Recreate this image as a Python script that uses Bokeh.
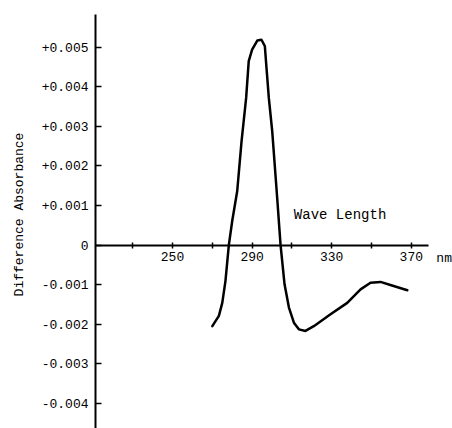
import math
from bokeh.plotting import figure
from bokeh.models import Range1d, FixedTicker, CustomJSTickFormatter, Label, LinearAxis
from bokeh.embed import file_html
from bokeh.resources import INLINE

# Data (wavelength in nm, difference absorbance)
wavelength = [270.0, 273.3, 275.0, 276.6, 278.3, 280.0, 282.5, 284.7, 287.0, 288.3,
              290.0, 292.6, 294.7, 296.4, 297.1, 298.4, 300.1, 302.6, 304.3, 306.3,
              308.5, 311.0, 313.5, 316.8, 321.0, 329.4, 337.8, 344.5, 349.5, 354.5,
              359.5, 368.0]
absorbance = [-0.00205, -0.00179, -0.00146, -0.00091, 0.0, 0.00061, 0.00136, 0.00263,
              0.00372, 0.00465, 0.00494, 0.00517, 0.00519, 0.00503, 0.00456, 0.00372,
              0.00288, 0.00119, 0.0, -0.00099, -0.00158, -0.00196, -0.00213, -0.00217,
              -0.00205, -0.00175, -0.00146, -0.00112, -0.00095, -0.00093, -0.00101,
              -0.00114]

x_ticks = [230, 250, 270, 290, 310, 330, 350, 370]
x_hidden = [230, 270, 310, 350]
y_ticks = [-0.004, -0.003, -0.002, -0.001, 0.0, 0.001, 0.002, 0.003, 0.004, 0.005]

FONT = "Liberation Mono"

W, H = 452, 428
LEFT = 95
px_per_nm = 1.99
px_per_unit = 39560.0
x0 = 211.3
x1 = x0 + (W - LEFT) / px_per_nm
zero_px = 244.6  # zero line from top of frame
y1 = zero_px / px_per_unit
y0 = -(H - zero_px) / px_per_unit

p = figure(width=W, height=H, output_backend="svg", toolbar_location=None,
           x_range=Range1d(x0, x1), y_range=Range1d(y0, y1),
           x_axis_location=None, y_axis_location=None,
           min_border_left=LEFT, min_border_right=0, min_border_top=0,
           min_border_bottom=0)
p.outline_line_color = None
p.grid.visible = False
p.background_fill_color = "white"
p.border_fill_color = "white"

# y axis
yax = LinearAxis(ticker=FixedTicker(ticks=y_ticks), bounds=(-0.0050, 0.00583),
                 formatter=CustomJSTickFormatter(code="""
                    if (Math.abs(tick) < 1e-9) return '0';
                    return (tick > 0 ? '+' : '') + tick.toFixed(3);
                 """))
yax.axis_line_width = 2
yax.axis_line_color = "black"
yax.major_tick_in = 6
yax.major_tick_out = 0
yax.major_tick_line_width = 1.5
yax.minor_tick_line_color = None
yax.major_label_standoff = 7
yax.major_label_text_font = FONT
yax.major_label_text_font_size = "13px"
yax.major_label_text_color = "black"
yax.axis_label = "Difference Absorbance"
yax.axis_label_text_font = FONT
yax.axis_label_text_font_size = "13px"
yax.axis_label_text_font_style = "normal"
yax.axis_label_text_color = "black"
yax.axis_label_standoff = 12
p.add_layout(yax, "left")

# x axis crossing at zero
xax = LinearAxis(ticker=FixedTicker(ticks=x_ticks), fixed_location=0,
                 bounds=(211.3, 378.5),
                 major_label_overrides={t: "" for t in x_hidden})
xax.axis_line_width = 2
xax.axis_line_color = "black"
xax.major_tick_in = 3
xax.major_tick_out = 3
xax.major_tick_line_width = 1.5
xax.minor_tick_line_color = None
xax.major_label_standoff = 4
xax.major_label_text_font = FONT
xax.major_label_text_font_size = "13px"
xax.major_label_text_color = "black"
p.add_layout(xax, "below")

p.line(wavelength, absorbance, line_color="black", line_width=2.5,
       line_join="round", line_cap="round")

p.add_layout(Label(x=334.2, y=0.00077, text="Wave Length", text_font=FONT,
                   text_font_size="14px", text_align="center",
                   text_baseline="middle", text_color="black"))
p.add_layout(Label(x=386.5, y=-0.00034, text="nm", text_font=FONT,
                   text_font_size="13px", text_align="center",
                   text_baseline="middle", text_color="black"))

open("out.html", "w").write(file_html(p, INLINE))
